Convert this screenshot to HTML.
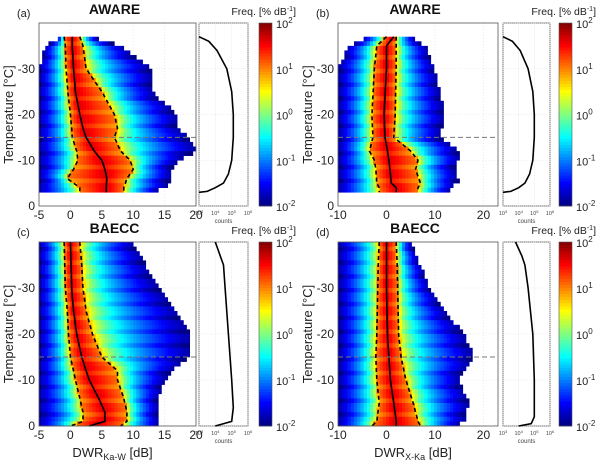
<!DOCTYPE html>
<html><head><meta charset="utf-8"><style>
body{margin:0;background:#fff;}
svg{display:block;font-family:"Liberation Sans",Arial,sans-serif;}
</style></head><body>
<svg id="fig" width="600" height="469" viewBox="0 0 600 469"></svg>
<script>
// ---- data ----
const aT=[-37,-35,-30,-25,-20,-17,-15,-12,-10,-8,-6,-4,-3];
const aMed=[0.3,0.3,0.5,0.8,1.5,2,2.5,3.8,5,5.5,5.8,5.7,5.7];
const aLo=[-1,-0.8,-0.7,-0.4,0,0.2,0.3,1,1.2,0.5,-0.5,1.5,1.5];
const aHi=[1.5,2,2.5,5,7,7.5,7,8,9.5,10,9,8.5,8.5];
const aR=[3,8,13,13,17,17,19,20,17,16,16,15,13];
const aL=[-1.5,-4,-5,-5,-5,-5,-5,-5,-5,-5,-5,-5,-5];
const aCT=[-37,-36,-34,-30,-25,-20,-15,-10,-7,-5,-4,-3.2,-3];
const aCV=[3.0,3.6,4.1,4.7,5.0,5.1,5.1,5.0,4.8,4.5,4.0,3.5,3.0];

const bT=[-37,-35,-30,-20,-15,-12,-10,-8,-5,-4,-3];
const bMed=[1.5,0,0,-0.5,-0.3,0.2,0.5,0.7,1,2,2];
const bLo=[0,-2,-2.5,-3,-2.8,-3.5,-2.5,-2.2,-2,-1.5,-1.5];
const bHi=[2,2,2,1.8,1.5,5,6.5,6,7,6.5,6.5];
const bR=[5,8,10,12,11,15,15,14,15,13,13];
const bL=[-4,-8,-10,-10,-10,-10,-10,-10,-10,-10,-10];
const bCT=[-37,-36,-34,-30,-25,-20,-15,-10,-7,-5,-4,-3.2,-3];
const bCV=[3.0,3.6,4.1,4.6,4.9,5.0,5.0,4.9,4.7,4.4,4.0,3.5,3.0];

const cT=[-40,-35,-30,-25,-20,-15,-12,-10,-6,-3,-1,0];
const cMed=[0,0.1,0.2,0.5,1,1.8,2.5,3,4.5,5.5,5.5,3];
const cLo=[-1,-0.9,-0.8,-0.5,-0.3,0,0.5,0.8,1.5,2,2,0];
const cHi=[1.5,1.8,2,2.5,3.5,5,7.5,7.5,8.5,9,9,8];
const cR=[10,12,14,17,19,19,16,15,14,14,14,14];
const cL=[-5,-5,-5,-5,-5,-5,-5,-5,-5,-5,-5,-5];
const cCT=[-40,-37,-35,-30,-20,-10,-4,-1,0];
const cCV=[4.0,4.3,4.5,4.6,4.8,5.0,5.1,5.0,4.0];

const dT=[-40,-35,-30,-25,-20,-15,-10,-5,-1,0];
const dMed=[0,0,0,0.1,0.2,0.5,0.8,1.5,2,2];
const dLo=[-1.5,-1.7,-1.8,-1.9,-2,-2.2,-2,-1.5,-2,-3];
const dHi=[2,2.2,2.3,2.4,2.5,3,4,5.5,6.5,7];
const dR=[5,7,9,12,16,18,15,17,16,14];
const dL=[-10,-10,-10,-10,-10,-10,-10,-10,-10,-10];
const dCT=[-40,-37,-35,-30,-20,-10,-2,-0.5,0];
const dCV=[3.8,4.2,4.4,4.6,4.9,5.0,5.0,4.8,4.0];

const cbTicks=["10","10","10","10","10"];
const cbExp=["2","1","0","-1","-2"];
const countTicks=["3","4","5","6"];

const NS="http://www.w3.org/2000/svg";
const svg=document.getElementById('fig');
function el(tag,attrs,parent,text){const e=document.createElementNS(NS,tag);for(const k in attrs)e.setAttribute(k,attrs[k]);if(text!==undefined)e.textContent=text;(parent||svg).appendChild(e);return e;}
function interp(xs,ys,x){if(x<=xs[0])return ys[0];for(let i=1;i<xs.length;i++){if(x<=xs[i]){const t=(x-xs[i-1])/(xs[i]-xs[i-1]);return ys[i-1]+t*(ys[i]-ys[i-1]);}}return ys[ys.length-1];}
function clamp(v){return Math.max(0,Math.min(1,v));}
function jet(t){const r=clamp(1.5-Math.abs(4*t-3)),g=clamp(1.5-Math.abs(4*t-2)),b=clamp(1.5-Math.abs(4*t-1));return `rgb(${Math.round(r*255)},${Math.round(g*255)},${Math.round(b*255)})`;}

function panel(p){
  const g=el('g',{},svg);
  const X=v=>p.x0+(v-p.xmin)/(p.xmax-p.xmin)*(p.x1-p.x0);
  const Y=t=>p.y1-(t/-40)*(p.y1-p.y0);
  el('rect',{x:p.x0,y:p.y0,width:p.x1-p.x0,height:p.y1-p.y0,fill:'#fff'},g);
  for(let v=p.xmin;v<=p.xmax;v+=p.xstep){el('line',{x1:X(v),x2:X(v),y1:p.y0,y2:p.y1,stroke:'#ddd','stroke-width':0.6,'stroke-dasharray':'1,2'},g);}
  for(let t=0;t>=-40;t-=10){el('line',{x1:p.x0,x2:p.x1,y1:Y(t),y2:Y(t),stroke:'#ddd','stroke-width':0.6,'stroke-dasharray':'1,2'},g);}
  const hm=el('g',{},g);
  const T=p.T;const tTop=T[0],tBot=T[T.length-1];
  for(let t=Math.ceil(tTop);t<tBot;t+=1){
    const tc=t+0.5;
    const med=interp(T,p.med,tc),lo=interp(T,p.lo,tc),hi=interp(T,p.hi,tc),R=interp(T,p.R,tc),L=interp(T,p.L,tc);
    const dx=0.5*(p.xmax-p.xmin)/25;
    for(let x=p.xmin;x<p.xmax;x+=dx){
      const xc=x+dx/2;
      if(xc>R||xc<L)continue;
      let lf;
      if(xc>=med){ if(xc<=hi) lf=1.6-0.6*(xc-med)/Math.max(hi-med,0.3); else lf=1.0-2.9*Math.sqrt((xc-hi)/Math.max(R-hi,0.5));}
      else { if(xc>=lo) lf=1.6-0.6*(med-xc)/Math.max(med-lo,0.3); else lf=1.0-2.9*Math.sqrt((lo-xc)/Math.max(lo-L,0.5));}
      lf+=((t%3===0)?-0.15:0.05);
      const c=jet(clamp((lf+2)/4));
      el('rect',{x:X(x),y:Y(t),width:X(x+dx)-X(x)+0.3,height:Y(t+1)-Y(t)+0.3,fill:c},hm);
    }
  }
  const path=arr=>{let d='';for(let t=tTop;t<=tBot+0.001;t+=0.5){d+=(d?'L':'M')+X(interp(T,arr,t)).toFixed(1)+','+Y(t).toFixed(1);}return d;};
  const m=el('path',{d:path(p.med),fill:'none',stroke:'#000','stroke-width':1.6},g);
  const l=el('path',{d:path(p.lo),fill:'none',stroke:'#000','stroke-width':1.6,'stroke-dasharray':'4,3'},g);
  const h=el('path',{d:path(p.hi),fill:'none',stroke:'#000','stroke-width':1.6,'stroke-dasharray':'4,3'},g);
  const hl=el('line',{x1:p.x0,x2:p.x1,y1:Y(-15),y2:Y(-15),stroke:'#777','stroke-width':0.9,'stroke-dasharray':'5,3'},g);
  el('rect',{x:p.x0,y:p.y0,width:p.x1-p.x0,height:p.y1-p.y0,fill:'none',stroke:'#555','stroke-width':0.8},g);
  for(let v=p.xmin;v<=p.xmax;v+=p.xstep){const tx=el('text',{x:X(v),y:p.y1+13,'font-size':12,'text-anchor':'middle',fill:'#222'},g,String(v));}
  for(let t=0;t>=-30;t-=10){const ty=el('text',{x:p.x0-4,y:Y(t)+4,'font-size':12,'text-anchor':'end',fill:'#222'},g,String(t));}
  const yl=el('text',{x:0,y:0,'font-size':13,'text-anchor':'middle',fill:'#222',transform:`translate(${p.x0-26},${(p.y0+p.y1)/2}) rotate(-90)`},g,'Temperature  [°C]');
  const ti=el('text',{x:(p.x0+p.x1)/2-3,y:p.y0-9,'font-size':14,'font-weight':'bold','text-anchor':'middle',fill:'#111'},g,p.title);
  const lb=el('text',{x:p.x0-22,y:p.y0-6,'font-size':11,fill:'#222'},g,p.label);
  if(p.xlabel){const xt=el('text',{x:(p.x0+p.x1)/2-5,y:p.y1+31,'font-size':13,'text-anchor':'middle',fill:'#222'},g);
    el('tspan',{},xt,'DWR');el('tspan',{'font-size':9,dy:3},xt,p.xlabel);el('tspan',{dy:-3},xt,' [dB]');}
  const S=v=>p.s0+(v-3)/3*(p.s1-p.s0);
  const sg=el('g',{},g);
  el('rect',{x:p.s0,y:p.y0,width:p.s1-p.s0,height:p.y1-p.y0,fill:'#fff',stroke:'#555','stroke-width':0.8},sg);
  for(let k=0;k<=3;k++){el('line',{x1:S(3+k),x2:S(3+k),y1:p.y0,y2:p.y1,stroke:'#e4e4e4','stroke-width':0.6,'stroke-dasharray':'1,1'},sg);}
  for(let t=0;t>=-40;t-=10){el('line',{x1:p.s0,x2:p.s1,y1:Y(t),y2:Y(t),stroke:'#e4e4e4','stroke-width':0.6,'stroke-dasharray':'1,1'},sg);}
  let cd='';for(let i=0;i<p.CT.length;i++){cd+=(i?'L':'M')+S(p.CV[i]).toFixed(1)+','+Y(p.CT[i]).toFixed(1);}
  const cl=el('path',{d:cd,fill:'none',stroke:'#000','stroke-width':1.6},sg);
  countTicks.forEach((e,k)=>{const tt=el('text',{x:S(3+k),y:p.y1+9,'font-size':5.5,'text-anchor':'middle',fill:'#444'},sg);el('tspan',{},tt,'10');el('tspan',{dy:-2,'font-size':4},tt,e);});
  const ct=el('text',{x:(p.s0+p.s1)/2,y:p.y1+17,'font-size':6,'text-anchor':'middle',fill:'#444'},sg,'counts');
  const cg=el('g',{},g);
  const N=60;for(let i=0;i<N;i++){el('rect',{x:p.c0,y:p.y0+(p.y1-p.y0)*i/N,width:p.c1-p.c0,height:(p.y1-p.y0)/N+0.4,fill:jet(1-(i+0.5)/N)},cg);}
  el('rect',{x:p.c0,y:p.y0,width:p.c1-p.c0,height:p.y1-p.y0,fill:'none',stroke:'#555','stroke-width':0.6},cg);
  cbTicks.forEach((b,k)=>{const yy=p.y0+(p.y1-p.y0)*k/4;const tt=el('text',{x:p.c1+4,y:yy+5,'font-size':11,fill:'#222'},cg);el('tspan',{},tt,b);el('tspan',{dy:-5,'font-size':8},tt,cbExp[k]);});
  const ft=el('text',{x:p.c1+24,y:p.y0-8,'font-size':10.5,'text-anchor':'end',fill:'#222'},cg);
  el('tspan',{},ft,'Freq. [% dB');el('tspan',{dy:-4,'font-size':7},ft,'-1');el('tspan',{dy:4},ft,']');
}
panel({name:'panel-a',label:'(a)',title:'AWARE',x0:39,x1:196,y0:23,y1:206,xmin:-5,xmax:20,xstep:5,s0:199,s1:248,c0:259,c1:272,T:aT,med:aMed,lo:aLo,hi:aHi,R:aR,L:aL,CT:aCT,CV:aCV});
panel({name:'panel-b',label:'(b)',title:'AWARE',x0:338,x1:498,y0:23,y1:206,xmin:-10,xmax:23,xstep:10,s0:503,s1:550,c0:559,c1:572,T:bT,med:bMed,lo:bLo,hi:bHi,R:bR,L:bL,CT:bCT,CV:bCV});
panel({name:'panel-c',label:'(c)',title:'BAECC',x0:39,x1:196,y0:242,y1:426,xmin:-5,xmax:20,xstep:5,s0:199,s1:248,c0:259,c1:272,T:cT,med:cMed,lo:cLo,hi:cHi,R:cR,L:cL,CT:cCT,CV:cCV,xlabel:'Ka-W'});
panel({name:'panel-d',label:'(d)',title:'BAECC',x0:338,x1:498,y0:242,y1:426,xmin:-10,xmax:23,xstep:10,s0:503,s1:550,c0:559,c1:572,T:dT,med:dMed,lo:dLo,hi:dHi,R:dR,L:dL,CT:dCT,CV:dCV,xlabel:'X-Ka'});
</script>
</body></html>
